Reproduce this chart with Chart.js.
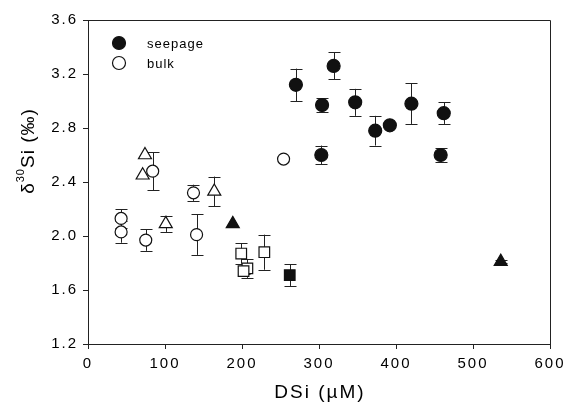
<!DOCTYPE html>
<html><head><meta charset="utf-8">
<script src="https://cdn.jsdelivr.net/npm/chart.js@4"></script>
<style>html,body{margin:0;padding:0;background:#fff}#wrap{width:570px;height:405px}</style>
</head><body><div id="wrap"><canvas id="c" width="570" height="405"></canvas></div>
<script>
// Seepage (filled circles)
const seepageX   = [270, 304, 319, 347, 373, 392, 420, 462, 303, 458];
const seepageY   = [3.12, 2.97, 3.26, 2.99, 2.78, 2.82, 2.98, 2.91, 2.60, 2.60];
const seepageErr = [0.12, 0.05, 0.10, 0.10, 0.11, 0, 0.15, 0.08, 0.07, 0.05];
// Bulk (open circles)
const bulkX   = [43, 43, 84, 75, 137, 141, 254];
const bulkY   = [2.13, 2.03, 2.48, 1.97, 2.32, 2.01, 2.57];
const bulkErr = [0.07, 0.08, 0.14, 0.08, 0.06, 0.15, 0];
// Open triangles
const triOpenX   = [74, 71, 101, 164];
const triOpenY   = [2.60, 2.45, 2.09, 2.33];
const triOpenErr = [0, 0, 0.06, 0.11];
// Filled triangles
const triFillX   = [188, 536];
const triFillY   = [2.09, 1.81];
const triFillErr = [0, 0.01];
// Open squares
const sqOpenX   = [199, 207, 202, 229];
const sqOpenY   = [1.87, 1.76, 1.74, 1.88];
const sqOpenErr = [0.075, 0.07, 0.02, 0.13];
// Filled squares
const sqFillX   = [262];
const sqFillY   = [1.71];
const sqFillErr = [0.08];

const xTicks = [0, 100, 200, 300, 400, 500, 600];
const yTicks = [1.2, 1.6, 2.0, 2.4, 2.8, 3.2, 3.6];
const legendLabels = ['seepage', 'bulk'];

const INK = '#111';
const FONT = '"Liberation Sans", Arial, sans-serif';
function pts(xs, ys) { return xs.map((x, i) => ({x: x, y: ys[i]})); }

function ds(label, xs, ys, errs, style, filled, radius) {
  return {
    label: label,
    data: pts(xs, ys),
    errs: errs,
    pointStyle: style,
    pointRadius: radius,
    pointHoverRadius: radius,
    pointBorderWidth: 1.2,
    borderColor: INK,
    pointBorderColor: INK,
    backgroundColor: filled ? INK : '#fff',
    pointBackgroundColor: filled ? INK : '#fff',
    showLine: false
  };
}

const errorBars = {
  id: 'errorBars',
  beforeDatasetsDraw(chart) {
    const ctx = chart.ctx, xs = chart.scales.x, ys = chart.scales.y;
    ctx.save();
    ctx.strokeStyle = '#222';
    ctx.lineWidth = 1;
    chart.data.datasets.forEach(d => {
      d.data.forEach((p, i) => {
        const e = d.errs[i];
        if (!e) return;
        const px = Math.round(xs.getPixelForValue(p.x)) + 0.5;
        const y1 = ys.getPixelForValue(p.y + e), y2 = ys.getPixelForValue(p.y - e);
        ctx.beginPath();
        ctx.moveTo(px, y1); ctx.lineTo(px, y2);
        ctx.moveTo(px - 6, Math.round(y1) + 0.5); ctx.lineTo(px + 6, Math.round(y1) + 0.5);
        ctx.moveTo(px - 6, Math.round(y2) + 0.5); ctx.lineTo(px + 6, Math.round(y2) + 0.5);
        ctx.stroke();
      });
    });
    ctx.restore();
  }
};

const decor = {
  id: 'decor',
  beforeDraw(chart) { chart.ctx.letterSpacing = '2px'; },
  afterDraw(chart) {
    const ctx = chart.ctx, a = chart.chartArea;
    ctx.save();
    ctx.letterSpacing = '0px';
    // frame top & right
    ctx.strokeStyle = '#222';
    ctx.lineWidth = 1;
    ctx.beginPath();
    ctx.moveTo(a.left, Math.round(a.top) + 0.5);
    ctx.lineTo(Math.round(a.right) + 0.5, Math.round(a.top) + 0.5);
    ctx.lineTo(Math.round(a.right) + 0.5, a.bottom);
    ctx.stroke();
    // legend
    ctx.font = '13px ' + FONT;
    ctx.letterSpacing = '1px';
    ctx.textBaseline = 'middle';
    ctx.textAlign = 'left';
    const ly = [43, 63];
    legendLabels.forEach((t, i) => {
      ctx.beginPath();
      ctx.arc(119, ly[i], 6.5, 0, Math.PI * 2);
      ctx.fillStyle = i === 0 ? INK : '#fff';
      ctx.fill();
      ctx.lineWidth = 1.2;
      ctx.strokeStyle = INK;
      ctx.stroke();
      ctx.fillStyle = '#000';
      ctx.fillText(t, 147, ly[i] + 1);
    });
    // x title
    ctx.font = '19px ' + FONT;
    ctx.letterSpacing = '2px';
    ctx.textAlign = 'center';
    ctx.textBaseline = 'middle';
    ctx.fillText('DSi (\u00b5M)', 320, 393);
    // y title with superscript
    ctx.save();
    ctx.translate(27, 151);
    ctx.rotate(-Math.PI / 2);
    const f1 = '19px ' + FONT;
    const f2 = '11px ' + FONT;
    ctx.letterSpacing = '1px';
    ctx.font = f1; const w1 = ctx.measureText('\u03b4').width;
    const w3 = ctx.measureText('Si (\u2030)').width;
    ctx.font = f2; const w2 = ctx.measureText('30').width;
    let x0 = -(w1 + w2 + w3) / 2;
    ctx.textAlign = 'left';
    ctx.textBaseline = 'alphabetic';
    ctx.font = f1; ctx.fillText('\u03b4', x0, 7);
    ctx.font = f2; ctx.fillText('30', x0 + w1, -3);
    ctx.font = f1; ctx.fillText('Si (\u2030)', x0 + w1 + w2, 7);
    ctx.restore();
    ctx.restore();
  }
};

new Chart(document.getElementById('c'), {
  type: 'scatter',
  data: {
    datasets: [
      ds('seepage', seepageX, seepageY, seepageErr, 'circle', true, 6.5),
      ds('bulk', bulkX, bulkY, bulkErr, 'circle', false, 6),
      ds('triangles open', triOpenX, triOpenY, triOpenErr, 'triangle', false, 7.5),
      ds('triangles filled', triFillX, triFillY, triFillErr, 'triangle', true, 7.5),
      ds('squares open', sqOpenX, sqOpenY, sqOpenErr, 'rect', false, 7.5),
      ds('squares filled', sqFillX, sqFillY, sqFillErr, 'rect', true, 7.5)
    ]
  },
  options: {
    responsive: false,
    devicePixelRatio: 1,
    animation: false,
    layout: { padding: { top: 20, right: 20, left: 0, bottom: 0 } },
    plugins: { legend: { display: false }, tooltip: { enabled: false } },
    scales: {
      x: {
        type: 'linear', min: 0, max: 600,
        afterBuildTicks: s => { s.ticks = xTicks.map(v => ({value: v})); },
        afterFit: s => { s.height = 61; },
        ticks: { color: '#000', font: { size: 15, family: FONT }, padding: 6, maxRotation: 0 },
        grid: { drawOnChartArea: false, drawTicks: true, tickLength: 5, color: '#222' },
        border: { color: '#222', width: 1 }
      },
      y: {
        type: 'linear', min: 1.2, max: 3.6,
        afterBuildTicks: s => { s.ticks = yTicks.map(v => ({value: v})); },
        afterFit: s => { s.width = 88; },
        ticks: { color: '#000', font: { size: 15, family: FONT }, padding: 5, callback: v => Number(v).toFixed(1) },
        grid: { drawOnChartArea: false, drawTicks: true, tickLength: 5, color: '#222' },
        border: { color: '#222', width: 1 }
      }
    }
  },
  plugins: [errorBars, decor]
});
</script>
</body></html>
